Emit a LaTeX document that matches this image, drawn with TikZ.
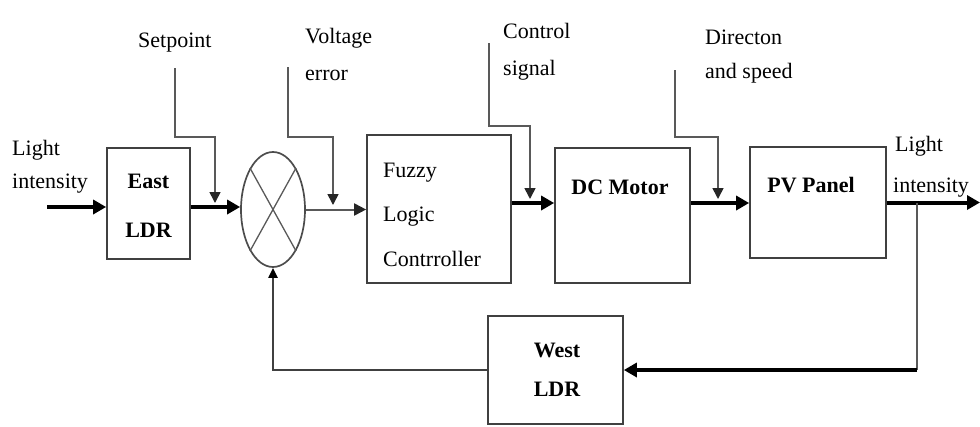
\documentclass[tikz,border=0pt]{standalone}
\usepackage{fontspec}
\setmainfont{Liberation Serif}
\usetikzlibrary{arrows.meta,shapes.geometric}
\begin{document}
\begin{tikzpicture}[x=1pt,y=-1pt,
  blk/.style={draw=black!75,line width=1.7pt,minimum width=#1,inner sep=0pt},
  lbl/.style={font=\fontsize{22}{26}\selectfont,anchor=base west,inner sep=0pt},
  btxt/.style={font=\bfseries\fontsize{22}{26}\selectfont,anchor=base,inner sep=0pt},
  ftxt/.style={font=\fontsize{22}{26}\selectfont,anchor=base west,inner sep=0pt},
  thin/.style={draw=black!65,line width=1.6pt},
  thinarr/.style={thin,-{Triangle[length=11pt,width=11pt,color=black!85]},shorten >=1pt},
  thick/.style={draw=black,line width=4pt,-{Triangle[length=13pt,width=14pt]}},
  thickline/.style={draw=black,line width=4pt}
]
\useasboundingbox (0,0) rectangle (980,426);
% blocks
\node[blk=83pt,minimum height=111pt] (east) at (148.5,203.5) {};
\node[draw=black!70,line width=1.7pt,ellipse,minimum width=64pt,minimum height=115pt,inner sep=0pt] (circ) at (273,209.5) {};
\node[blk=144pt,minimum height=148pt] (flc) at (439,209) {};
\node[blk=135pt,minimum height=135pt] (dc) at (622.5,215.5) {};
\node[blk=136pt,minimum height=111pt] (pv) at (818,202.5) {};
\node[blk=135pt,minimum height=108pt] (west) at (555.5,370) {};
% cross in the summing junction
\draw[thin,line width=1.3pt] (circ.61) -- (circ.241);
\draw[thin,line width=1.3pt] (circ.119) -- (circ.299);
% block texts
\node[btxt] (eastA) at (148.5,188) {East};
\node[btxt] (eastB) at (148.5,237) {LDR};
\node[ftxt] (flcA) at (383,177) {Fuzzy};
\node[ftxt] (flcB) at (383,221) {Logic};
\node[ftxt] (flcC) at (383,266) {Contrroller};
\node[btxt] (dcT) at (620,194) {DC Motor};
\node[btxt] (pvT) at (811,192) {PV Panel};
\node[btxt] (westA) at (557,357) {West};
\node[btxt] (westB) at (557,396) {LDR};
% labels
\node[lbl] (liA) at (12,155) {Light};
\node[lbl] (liB) at (12,188) {intensity};
\node[lbl] (sp) at (138,47) {Setpoint};
\node[lbl] (veA) at (305,43) {Voltage};
\node[lbl] (veB) at (305,80) {error};
\node[lbl] (csA) at (503,38) {Control};
\node[lbl] (csB) at (503,75) {signal};
\node[lbl] (dsA) at (705,44) {Directon};
\node[lbl] (dsB) at (705,78) {and speed};
\node[lbl] (loA) at (895,151) {Light};
\node[lbl] (loB) at (893,192) {intensity};
% coordinates
\coordinate (in) at (47,207);
\coordinate (spT) at (175,68);
\coordinate (veT) at (288,67);
\coordinate (csT) at (489,43);
\coordinate (dsT) at (675,70);
\coordinate (m1) at (0,203);
\coordinate (out) at (980,202.5);
\coordinate (j) at (917,202.5);
% main forward path
\draw[thick] (in) -- (in -| east.west);
\draw[thick] (in -| east.east) -- (in -| circ.west);
\draw[thin,line width=2pt,-{Triangle[length=12pt,width=12pt,color=black!85]}] (circ.east) -- (circ.east -| flc.west);
\draw[thick] (m1 -| flc.east) -- (m1 -| dc.west);
\draw[thick] (m1 -| dc.east) -- (m1 -| pv.west);
\draw[thick] (pv.east) -- (out);
% setpoint-type inputs
\draw[thinarr] (spT) -- ++(0,69) -| (215,204);
\draw[thinarr] (veT) -- ++(0,70) -| (333,206);
\draw[thinarr] (csT) -- ++(0,83) -| (530,200);
\draw[thinarr] (dsT) -- ++(0,67) -| (718,200);
% feedback
\draw[thin] (j) -- (j |- west.east);
\draw[thick] (j |- west.east) -- (west.east);
\draw[draw=black!75,line width=2pt,-{Triangle[length=10pt,width=9pt,color=black]}] (west.west) -| (circ.south);
\end{tikzpicture}
\end{document}
